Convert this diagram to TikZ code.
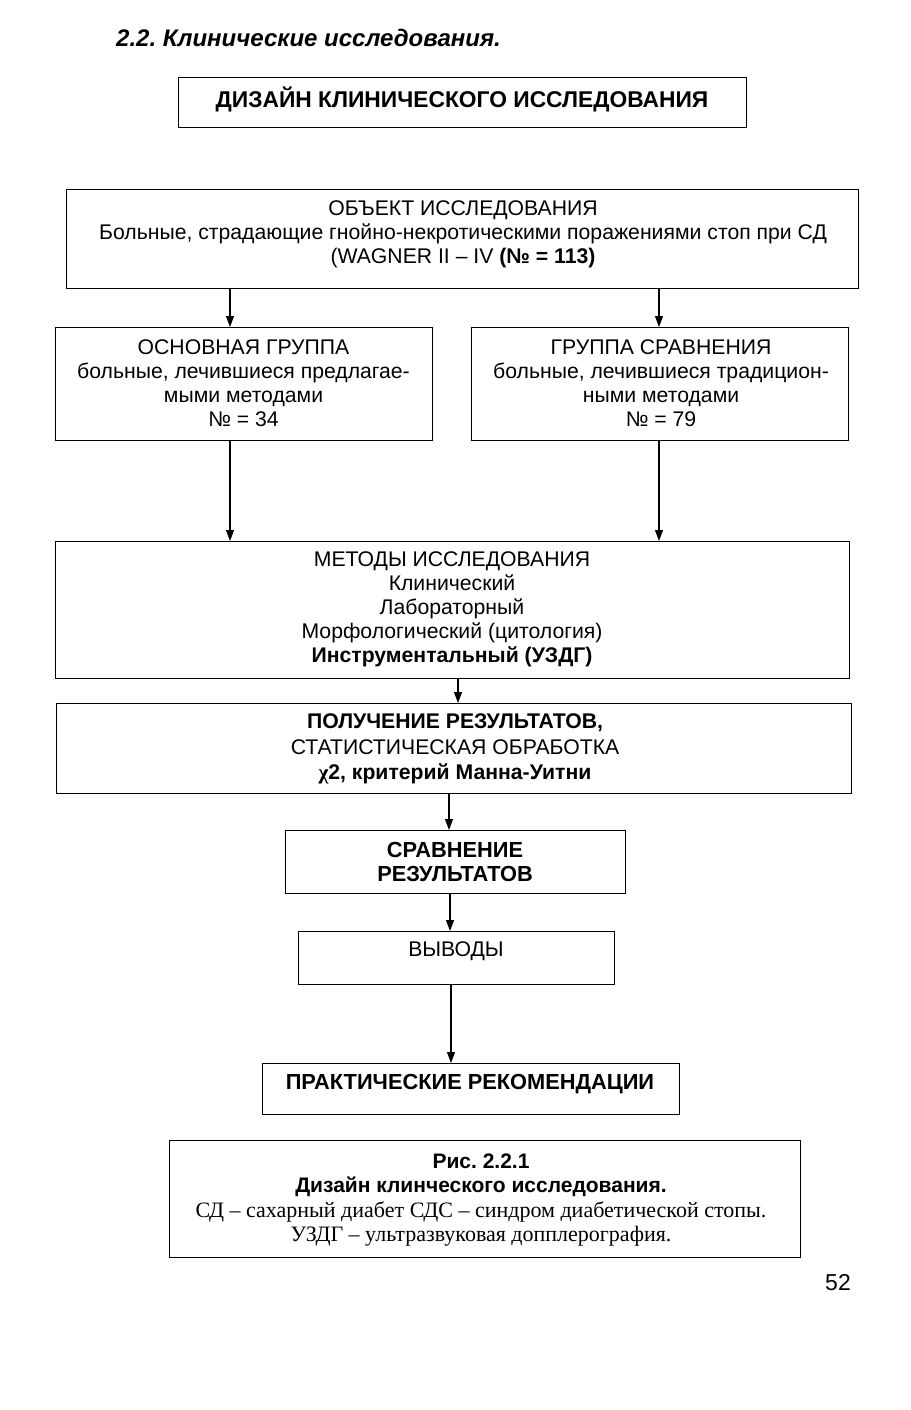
\documentclass[tikz,border=0pt]{standalone}
\usepackage{fontspec}
\setmainfont{Liberation Sans}
\newfontfamily\timesf{Liberation Serif}
\usetikzlibrary{arrows.meta}
\begin{document}
\frenchspacing
\begin{tikzpicture}[x=1pt,y=-1pt,
  box/.style={draw, line width=1.2pt, inner sep=0pt, anchor=north west},
  txt/.style={inner sep=0pt, align=center, font=\fontsize{21.2}{24}\selectfont},
  btxt/.style={inner sep=0pt, align=center, font=\fontsize{21.8}{24}\selectfont\bfseries},
  arr/.style={line width=1.1pt, -{Triangle[length=11pt,width=8pt]}}]
\useasboundingbox (0,0) rectangle (910,1410);
% heading
\node[inner sep=0pt, anchor=west, font=\fontsize{24}{26}\selectfont\bfseries\itshape] (head) at (116,38) {2.2. Клинические исследования.};
% boxes
\node[box, minimum width=568pt, minimum height=50pt] (title) at (178,77) {};
\node[box, minimum width=792pt, minimum height=99pt] (obj) at (66,189) {};
\node[box, minimum width=377pt, minimum height=113pt] (main) at (55,327) {};
\node[box, minimum width=377pt, minimum height=113pt] (comp) at (471,327) {};
\node[box, minimum width=794pt, minimum height=137pt] (meth) at (55,541) {};
\node[box, minimum width=795pt, minimum height=90pt] (res) at (56,703) {};
\node[box, minimum width=340pt, minimum height=63pt] (cmpres) at (285,830) {};
\node[box, minimum width=316pt, minimum height=53pt] (concl) at (298,931) {};
\node[box, minimum width=417pt, minimum height=51pt] (rec) at (262,1063) {};
\node[box, minimum width=631pt, minimum height=117pt] (cap) at (169,1140) {};
% texts
\node[inner sep=0pt, font=\fontsize{22.8}{24}\selectfont\bfseries] (titlet) at (462,99) {ДИЗАЙН КЛИНИЧЕСКОГО ИССЛЕДОВАНИЯ};
\node[txt] (objt) at (463,234) {ОБЪЕКТ ИССЛЕДОВАНИЯ\\Больные, страдающие гнойно-некротическими поражениями стоп при СД\\(WAGNER II – IV \textbf{(№ = 113)}};
\node[txt] (maint) at (243.5,383) {ОСНОВНАЯ ГРУППА\\больные, лечившиеся предлагае-\\мыми методами\\№ = 34};
\node[txt] (compt) at (661,383) {ГРУППА СРАВНЕНИЯ\\больные, лечившиеся традицион-\\ными методами\\№ = 79};
\node[txt] (metht) at (452,609) {МЕТОДЫ ИССЛЕДОВАНИЯ\\Клинический\\Лабораторный\\Морфологический (цитология)\\\textbf{Инструментальный (УЗДГ)}};
\node[txt, font=\fontsize{21.2}{25.5}\selectfont] (rest) at (455,749) {\textbf{ПОЛУЧЕНИЕ РЕЗУЛЬТАТОВ,}\\СТАТИСТИЧЕСКАЯ ОБРАБОТКА\\\textbf{{\timesf χ}2, критерий Манна-Уитни}};
\node[btxt] (cmprest) at (455,862) {СРАВНЕНИЕ\\РЕЗУЛЬТАТОВ};
\node[txt] (conclt) at (456,951) {ВЫВОДЫ};
\node[btxt] (rect) at (470,1084) {ПРАКТИЧЕСКИЕ РЕКОМЕНДАЦИИ};
\node[inner sep=0pt, align=center, font=\fontsize{21}{24.5}\selectfont] (capt) at (481,1200) {\textbf{Рис. 2.2.1}\\\textbf{Дизайн клинческого исследования.}\\{\timesf\fontsize{22}{24.5}\selectfont СД – сахарный диабет СДС – синдром диабетической стопы.}\\{\timesf\fontsize{22}{24.5}\selectfont УЗДГ – ультразвуковая допплерография.}};
\node[inner sep=0pt, font=\fontsize{23}{24}\selectfont] (page) at (838,1283) {52};
% arrow columns
\coordinate (xa) at (230,0);
\coordinate (xb) at (659,0);
\coordinate (xc) at (458,0);
\coordinate (xd) at (449,0);
\coordinate (xe) at (450,0);
\coordinate (xf) at (451,0);
\draw[arr] (obj.south -| xa) -- (main.north -| xa);
\draw[arr] (obj.south -| xb) -- (comp.north -| xb);
\draw[arr] (main.south -| xa) -- (meth.north -| xa);
\draw[arr] (comp.south -| xb) -- (meth.north -| xb);
\draw[arr] (meth.south -| xc) -- (res.north -| xc);
\draw[arr] (res.south -| xd) -- (cmpres.north -| xd);
\draw[arr] (cmpres.south -| xe) -- (concl.north -| xe);
\draw[arr] (concl.south -| xf) -- (rec.north -| xf);
\end{tikzpicture}
\end{document}
